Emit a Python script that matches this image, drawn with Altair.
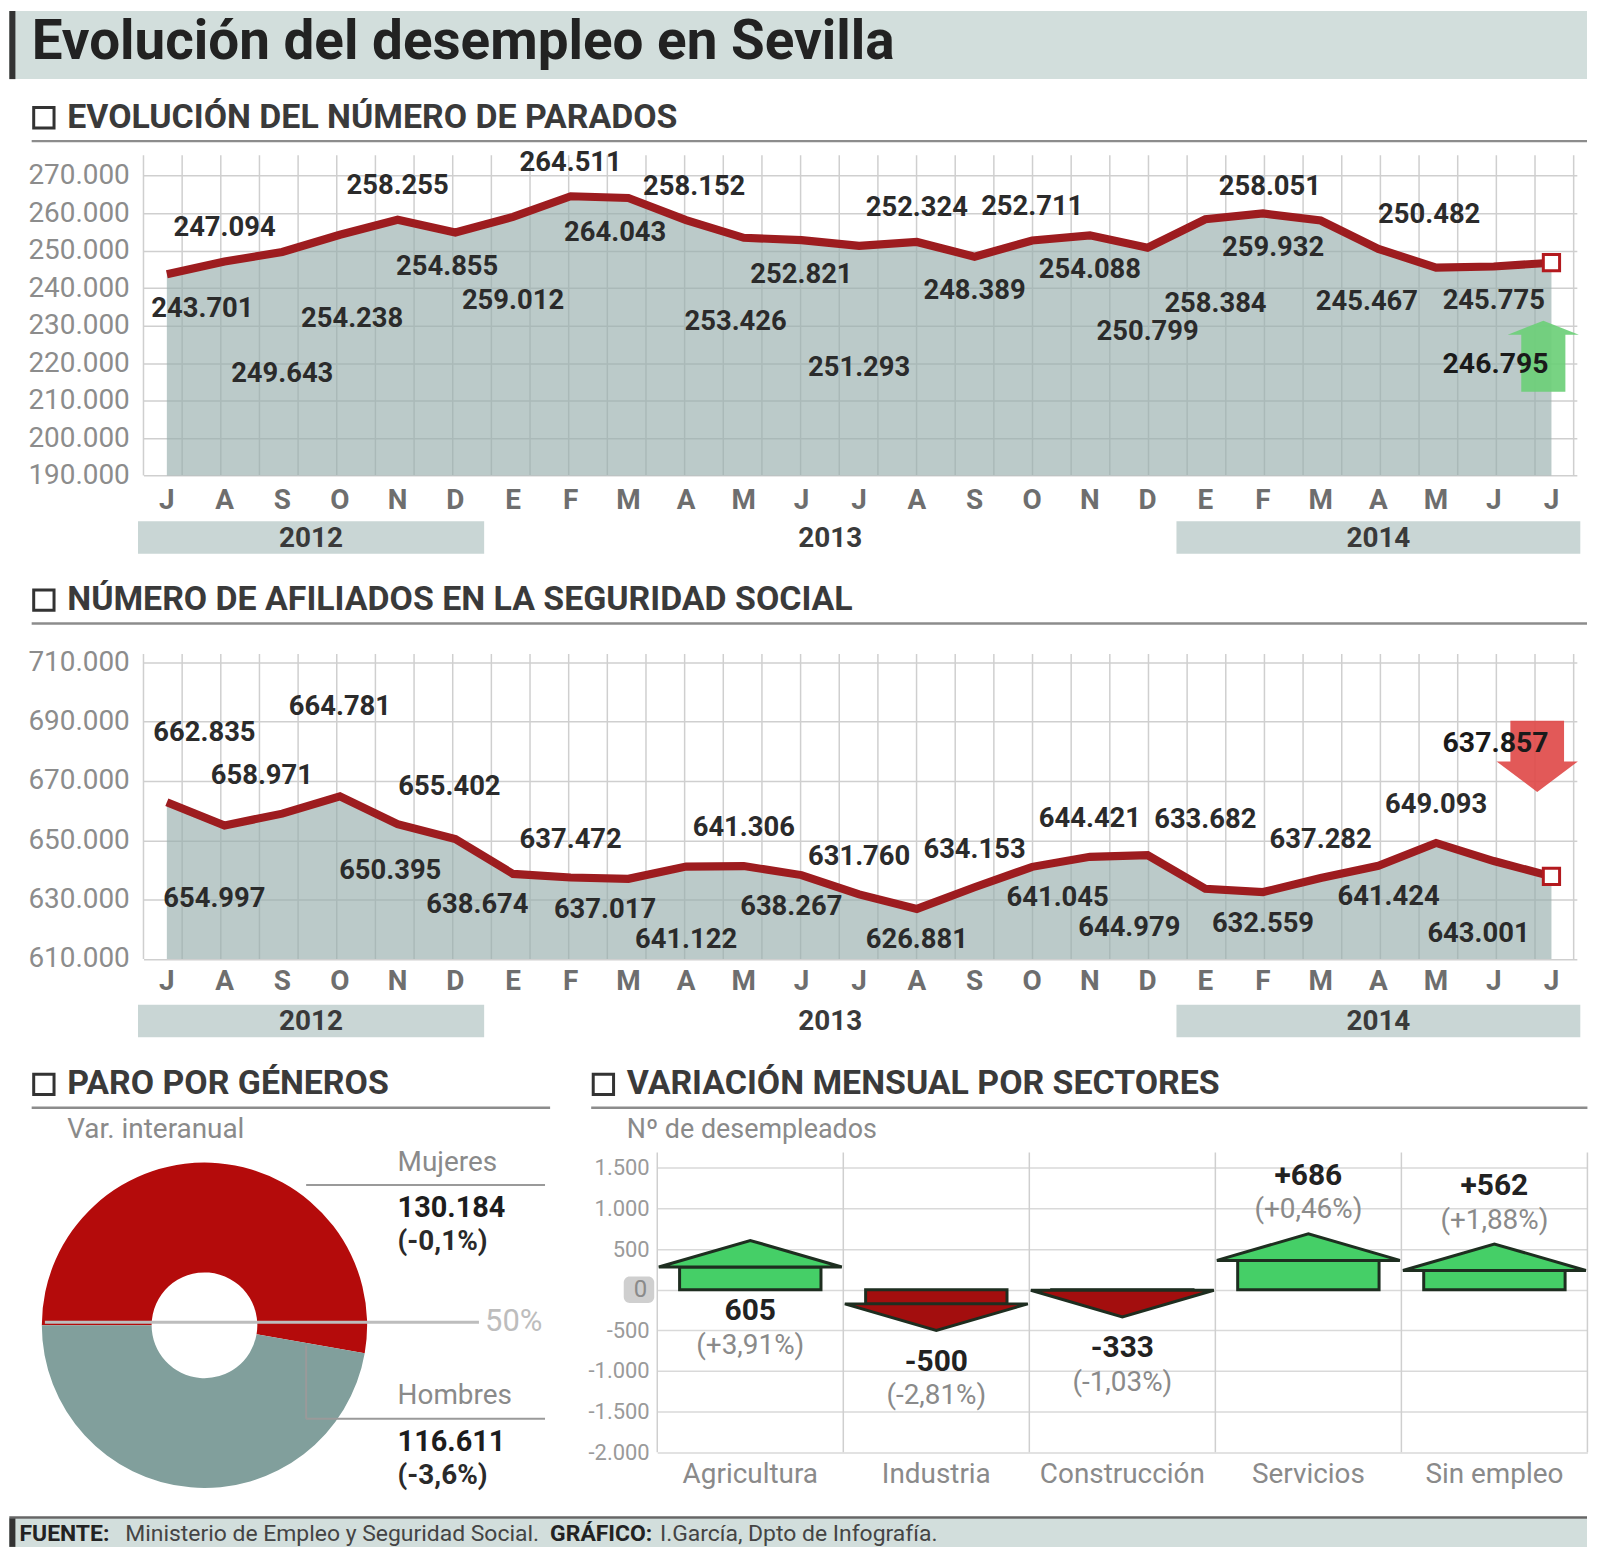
import math
import altair as alt
import pandas as pd

# ---------------- datos ----------------
meses = ["J", "A", "S", "O", "N", "D", "E", "F", "M", "A", "M", "J", "J",
         "A", "S", "O", "N", "D", "E", "F", "M", "A", "M", "J", "J"]
anios = ["2012", "2013", "2014"]
meses_por_anio = [6, 12, 7]

parados = [243701, 247094, 249643, 254238, 258255, 254855, 259012, 264511, 264043,
           258152, 253426, 252821, 251293, 252324, 248389, 252711, 254088, 250799,
           258384, 259932, 258051, 250482, 245467, 245775, 246795]
pos_parados = ["abajo", "arriba", "abajo3", "abajo2", "arriba", "abajo", "abajo2", "arriba",
               "abajo", "arriba", "abajo2", "abajo", "abajo3", "arriba", "abajo", "arriba",
               "abajo", "abajo2", "abajo2", "abajo", "arriba", "arriba", "abajo", "abajo", "final"]
ticks_parados = list(range(190000, 270001, 10000))

afiliados = [662835, 654997, 658971, 664781, 655402, 650395, 638674, 637472, 637017,
             641122, 641306, 638267, 631760, 626881, 634153, 641045, 644421, 644979,
             633682, 632559, 637282, 641424, 649093, 643001, 637857]
pos_afiliados = ["arriba2", "abajo2", "arriba", "arriba3", "arriba", "abajo", "abajo", "arriba",
                 "abajo", "abajo2", "arriba", "abajo", "arriba", "abajo", "arriba", "abajo",
                 "arriba", "abajo2", "arriba2", "abajo", "arriba", "abajo", "arriba", "abajo2", "final"]
ticks_afiliados = list(range(610000, 710001, 20000))

generos = ["Mujeres", "Hombres"]
parados_genero = [130184, 116611]
var_genero = ["(-0,1%)", "(-3,6%)"]

sectores = ["Agricultura", "Industria", "Construcción", "Servicios", "Sin empleo"]
variacion = [605, -500, -333, 686, 562]
var_sector_txt = ["605", "-500", "-333", "+686", "+562"]
var_sector_pct = ["(+3,91%)", "(-2,81%)", "(-1,03%)", "(+0,46%)", "(+1,88%)"]
pos_sector = ["cero", "abajo", "abajo", "arriba", "arriba"]
ticks_sectores = list(range(-2000, 1501, 500))

# ---------------- estilo / maquetación ----------------
K = 1 / 0.98                  # factor de maquetación


def P(v):
    return round(v * K, 2)


FONT = "Roboto"
W = P(1410)
PX_MES = 56.75
BAND = "#d2dedc"
GRID = "#cfcfcf"
LABEL_EXPR = "replace(replace(format(datum.value, ','), ',', '.'), '\u2212', '-')"
LABEL_EXPR_SIN_CERO = "datum.value == 0 ? '' : " + LABEL_EXPR
GRID_X = [round(-0.405 + k * 0.67, 3) for k in range(38)]
FLECHA_ARRIBA = "M0,-1 L1,-0.6 L0.62,-0.6 L0.62,1 L-0.62,1 L-0.62,-0.6 L-1,-0.6 Z"
FLECHA_ABAJO = "M-0.66,-0.875 L0.66,-0.875 L0.66,0.125 L1,0.125 L0,0.875 L-1,0.125 L-0.66,0.125 Z"
PUNTA_ARRIBA = "M-1,0.145 L0,-0.145 L1,0.145 Z"
PUNTA_ABAJO = "M-1,-0.145 L0,0.145 L1,-0.145 Z"
VERDE, ROJO, BORDE = "#45cf67", "#a30e0e", "#1e2e20"
# desplazamientos horizontales (px) de algunas etiquetas
NUDGE1 = {0: 35, 3: 12, 5: -8, 8: -13, 9: 8, 10: -8, 18: 10, 19: 10, 20: -50, 21: 50,
          22: -68, 24: -55}
NUDGE2 = {0: 37, 1: -10, 2: -20, 4: 51, 5: -64, 6: -35, 8: -23, 11: -10, 15: 25, 17: -18,
          21: 10, 23: -15, 24: -55}


def fmt(v):
    return f"{v:,}".replace(",", ".")


def uno(**kw):
    return alt.Chart(pd.DataFrame({k: [v] for k, v in kw.items()}))


def texto(t, x, y, size=24, weight="normal", color="#333333", align="left"):
    return uno(t=t).mark_text(font=FONT, fontSize=size, fontWeight=weight, color=color,
                              align=align, baseline="middle").encode(
        x=alt.value(P(x)), y=alt.value(P(y)), text="t:N")


def regla(x0, x1, y0, y1, color="#8c8c8c", w=2.5):
    return uno(a=0).mark_rule(color=color, strokeWidth=w).encode(
        x=alt.value(P(x0)), x2=alt.value(P(x1)), y=alt.value(P(y0)), y2=alt.value(P(y1)))


def caja(x0, x1, y0, y1, color):
    return uno(a=0).mark_rect(color=color).encode(
        x=alt.value(P(x0)), x2=alt.value(P(x1)), y=alt.value(P(y0)), y2=alt.value(P(y1)))


def cabecera(t, x0, xl0, xl1, yc):
    cuadro = uno(a=0).mark_point(shape="square", filled=False, stroke="#333333", strokeWidth=3,
                                 size=P(20) ** 2, opacity=1).encode(
        x=alt.value(P(x0)), y=alt.value(P(yc)))
    return [cuadro,
            texto(t, x0 + 23, yc, size=34, weight="bold", color="#3a3a3a"),
            regla(xl0, xl1, yc + 23, yc + 23)]


def panel_linea(valores, posiciones, nudge, desp, dominio, rango, ticks, alto, grid_top,
                cab, cab_y, mes_y, banda_y, flecha, flecha_color, flecha_lado, flecha_dx,
                flecha_dy, final_dy, extra=None):
    df = pd.DataFrame({"i": list(range(len(valores))), "mes": meses, "v": valores,
                       "pos": posiciones, "txt": [fmt(v) for v in valores]})
    df["xl"] = [i + nudge.get(i, 0) / PX_MES for i in df["i"]]
    b = alt.Chart(df)
    xs = alt.Scale(domain=[-0.405, 24.44], nice=False, zero=False)
    ys = alt.Scale(domain=dominio, range=[P(rango[0]), P(rango[1])], nice=False, zero=False)
    ya = alt.Axis(values=ticks, labelExpr=LABEL_EXPR, ticks=False, domain=False,
                  labelPadding=P(14), labelFontSize=28, labelColor="#8c8c8c", labelFont=FONT,
                  grid=True, gridColor=GRID, gridWidth=1.5, title=None)
    X = alt.X("i:Q", scale=xs, axis=None, title=None)
    XL = alt.X("xl:Q", scale=xs, axis=None, title=None)
    Y = alt.Y("v:Q", scale=ys, axis=ya, title=None)

    capas = list(extra or [])
    capas += cabecera(cab, -98, -110, 1420, cab_y)
    capas.append(alt.Chart(pd.DataFrame({"g": GRID_X})).mark_rule(color=GRID, strokeWidth=1.5).encode(
        x=alt.X("g:Q", scale=xs, axis=None, title=None), y=alt.value(P(grid_top)),
        y2=alt.value(P(alto))))
    capas.append(b.mark_area(color="#97adac", opacity=0.65).encode(
        x=X, y=Y, y2=alt.datum(dominio[0])))
    capas.append(b.mark_line(color="#9d1c1f", strokeWidth=P(8)).encode(x=X, y=Y))
    ultimo = b.transform_filter(alt.datum.i == len(valores) - 1)
    capas.append(ultimo.mark_point(shape=flecha, filled=True, color=flecha_color,
                                   size=P(flecha_lado) ** 2, opacity=0.92).encode(
        x=X, y=Y, xOffset=alt.value(P(flecha_dx)), yOffset=alt.value(P(flecha_dy))))
    capas.append(ultimo.mark_point(shape="square", filled=True, fill="white", stroke="#b3191e",
                                   strokeWidth=3, size=P(16) ** 2, opacity=1).encode(x=X, y=Y))
    for p, dy in desp.items():
        capas.append(b.transform_filter(alt.datum.pos == p).mark_text(
            font=FONT, fontSize=27.5, fontWeight="bold", color="#2b2b2b", dy=P(dy),
            baseline="middle").encode(x=XL, y=Y, text="txt:N"))
    capas.append(b.transform_filter(alt.datum.pos == "final").mark_text(
        font=FONT, fontSize=28.5, fontWeight="bold", color="#1a1a1a", dy=P(final_dy),
        baseline="middle").encode(x=XL, y=Y, text="txt:N"))
    capas.append(b.mark_text(font=FONT, fontSize=28, fontWeight="bold", color="#6e6e6e",
                             baseline="middle").encode(x=X, y=alt.value(P(mes_y)), text="mes:N"))
    # bandas de año
    ini, acc = [], 0
    for n in meses_por_anio:
        ini.append(acc - 0.5)
        acc += n
    dfa = pd.DataFrame({"anio": anios, "ini": ini,
                        "fin": [a + n for a, n in zip(ini, meses_por_anio)]})
    dfa["centro"] = (dfa["ini"] + dfa["fin"]) / 2
    ba = alt.Chart(dfa)
    capas.append(ba.transform_filter(alt.datum.anio != "2013").mark_rect(color="#c9d6d5").encode(
        x=alt.X("ini:Q", scale=xs, axis=None, title=None), x2="fin:Q",
        y=alt.value(P(banda_y)), y2=alt.value(P(banda_y + 32))))
    capas.append(ba.mark_text(font=FONT, fontSize=28, fontWeight="bold", color="#3a3a3a",
                              baseline="middle").encode(
        x=alt.X("centro:Q", scale=xs, axis=None, title=None), y=alt.value(P(banda_y + 17)),
        text="anio:N"))
    return alt.layer(*capas).properties(width=W, height=P(alto))


titulo = [caja(-132, 1420, -142, -75, BAND), caja(-132, -126, -142, -75, "#333333"),
          texto("Evolución del desempleo en Sevilla", -110, -111, size=55, weight="bold",
                color="#222222")]

c1 = panel_linea(parados, pos_parados, NUDGE1,
                 {"arriba": -33, "abajo": 34, "abajo2": 83, "abajo3": 120},
                 [190000, 270000], [315, 20], ticks_parados, 315, 0,
                 "EVOLUCIÓN DEL NÚMERO DE PARADOS", -37, 340, 360,
                 FLECHA_ARRIBA, "#6ccf78", 70, -8, 92, 100, extra=titulo)

c2 = panel_linea(afiliados, pos_afiliados, NUDGE2,
                 {"arriba": -37, "arriba2": -68, "arriba3": -88, "abajo": 31, "abajo2": 72},
                 [610000, 710000], [475, 183], ticks_afiliados, 475, 175,
                 "NÚMERO DE AFILIADOS EN LA SEGURIDAD SOCIAL", 122, 498, 520,
                 FLECHA_ABAJO, "#df4b4a", 80, -14, -118, -131)

# ---------------- donut (+ pie de página) ----------------
dfg = pd.DataFrame({"genero": generos, "parados": parados_genero, "k": [0, 1],
                    "valor": [fmt(v) for v in parados_genero], "var": var_genero})
bg = alt.Chart(dfg)
donut_capas = cabecera("PARO POR GÉNEROS", -98, -110, 400, 123)
donut_capas.append(texto("Var. interanual", -75, 168, size=28, color="#8a8a8a"))
donut_capas.append(bg.mark_arc(innerRadius=P(52), outerRadius=P(160)).encode(
    theta=alt.Theta("parados:Q", stack=True,
                    scale=alt.Scale(range=[1.5 * math.pi, 3.5 * math.pi])),
    color=alt.Color("genero:N", scale=alt.Scale(domain=generos, range=["#b40b0b", "#819f9c"]),
                    legend=None),
    order=alt.Order("k:Q"), x=alt.value(P(60)), y=alt.value(P(360))))
donut_capas.append(regla(-97, 330, 357, 357, color="#bdbdbd", w=3))
donut_capas.append(texto("50%", 336, 357, size=31, color="#bdbdbd"))
donut_capas.append(regla(160, 395, 222, 222, color="#9a9a9a", w=2))
donut_capas.append(regla(160, 395, 452, 452, color="#9a9a9a", w=2))
donut_capas.append(regla(160, 160, 380, 452, color="#9a9a9a", w=2))
for g, yy in zip(generos, [200, 430]):
    sel = bg.transform_filter(alt.datum.genero == g)
    donut_capas.append(sel.mark_text(font=FONT, fontSize=28, color="#8a8a8a", align="left",
                                     baseline="middle").encode(
        x=alt.value(P(250)), y=alt.value(P(yy)), text="genero:N"))
    donut_capas.append(sel.mark_text(font=FONT, fontSize=29, fontWeight="bold", color="#1d1d1d",
                                     align="left", baseline="middle").encode(
        x=alt.value(P(250)), y=alt.value(P(yy + 45)), text="valor:N"))
    donut_capas.append(sel.mark_text(font=FONT, fontSize=28, fontWeight="bold", color="#2a2a2a",
                                     align="left", baseline="middle").encode(
        x=alt.value(P(250)), y=alt.value(P(yy + 78)), text="var:N"))
# pie de página (dibujado desde este panel)
donut_capas += [caja(-132, 1420, 550, 578, BAND), regla(-132, 1420, 549, 549, color="#666666", w=2.5),
                caja(-132, -126, 550, 578, "#333333"),
                texto("FUENTE:", -122, 565, size=23, weight="bold", color="#222222"),
                texto("Ministerio de Empleo y Seguridad Social.", -18, 565, size=23, color="#444444"),
                texto("GRÁFICO:", 400, 565, size=23, weight="bold", color="#222222"),
                texto("I.García, Dpto de Infografía.", 508, 565, size=23, color="#444444")]
donut = alt.layer(*donut_capas).properties(width=P(420), height=P(485))

# ---------------- sectores ----------------
WB = P(915)
PX_U = (P(485) - P(205)) / 3500   # px por desempleado en el eje
Y_CERO = P(485) - 2000 * PX_U       # posición del cero
CABEZA = P(26)                     # alto de la punta de flecha (px)
dfs = pd.DataFrame({"i": list(range(len(sectores))), "sector": sectores, "v": variacion,
                    "txt": var_sector_txt, "pct": var_sector_pct, "pos": pos_sector})
dfs["ancla"] = [0 if p == "cero" else v for p, v in zip(pos_sector, variacion)]
dfs["cuerpo"] = [v - math.copysign(CABEZA / PX_U, v) for v in variacion]
dfs["x0"] = dfs["i"] - 0.38
dfs["x1"] = dfs["i"] + 0.38

xsb = alt.Scale(domain=[-0.5, 4.5], nice=False, zero=False)
ysb = alt.Scale(domain=[-2000, 1500], range=[P(485), P(205)], nice=False, zero=False)
yab = alt.Axis(values=ticks_sectores, labelExpr=LABEL_EXPR_SIN_CERO, ticks=False, domain=False,
               labelPadding=P(8), labelFontSize=22, labelColor="#9a9a9a", labelFont=FONT,
               grid=True, gridColor="#d9d9d9", gridWidth=1.5, title=None)
bs = alt.Chart(dfs)
Xs = alt.X("i:Q", scale=xsb, axis=None, title=None)
Ys = alt.Y("ancla:Q", scale=ysb, axis=yab, title=None)
Yv = alt.Y("v:Q", scale=ysb, axis=yab, title=None)

bar_capas = cabecera("VARIACIÓN MENSUAL POR SECTORES", -53, -65, 915, 123)
bar_capas.append(texto("Nº de desempleados", -30, 168, size=27, color="#8a8a8a"))
bar_capas.append(alt.Chart(pd.DataFrame({"g": [-0.5, 0.5, 1.5, 2.5, 3.5, 4.5]})).mark_rule(
    color=GRID, strokeWidth=1.5).encode(x=alt.X("g:Q", scale=xsb, axis=None, title=None),
                                        y=alt.value(P(190)), y2=alt.value(P(485))))
# etiqueta del cero sobre fondo gris
cero = alt.Chart(pd.DataFrame({"c": [0], "t": ["0"]}))
bar_capas.append(cero.mark_rect(color="#cfcfcf", cornerRadius=6).encode(
    x=alt.value(P(-33)), x2=alt.value(P(-3)), y=alt.value(Y_CERO - P(13)),
    y2=alt.value(Y_CERO + P(13))))
bar_capas.append(cero.mark_text(font=FONT, fontSize=24, color="#8a8a8a", align="right",
                                baseline="middle").encode(
    x=alt.value(P(-10)), y=alt.Y("c:Q", scale=ysb, axis=yab, title=None), text="t:N"))
for cond, col, punta, off in [(alt.datum.v > 0, VERDE, PUNTA_ARRIBA, CABEZA / 2),
                              (alt.datum.v < 0, ROJO, PUNTA_ABAJO, -CABEZA / 2)]:
    sel = bs.transform_filter(cond)
    bar_capas.append(sel.mark_rect(color=col, stroke=BORDE, strokeWidth=3).encode(
        x=alt.X("x0:Q", scale=xsb, axis=None, title=None), x2="x1:Q",
        y=alt.Y("cuerpo:Q", scale=ysb, axis=yab, title=None), y2=alt.datum(0)))
    bar_capas.append(sel.mark_point(shape=punta, filled=True, fill=col, stroke=BORDE,
                                    strokeWidth=3, size=P(180) ** 2, opacity=1).encode(
        x=Xs, y=Yv, yOffset=alt.value(off)))
for p, (d1, d2) in {"arriba": (-57, -23), "abajo": (31, 65), "cero": (21, 55)}.items():
    sel = bs.transform_filter(alt.datum.pos == p)
    bar_capas.append(sel.mark_text(font=FONT, fontSize=30, fontWeight="bold", color="#222222",
                                   dy=P(d1), baseline="middle").encode(x=Xs, y=Ys, text="txt:N"))
    bar_capas.append(sel.mark_text(font=FONT, fontSize=28, color="#8a8a8a",
                                   dy=P(d2), baseline="middle").encode(x=Xs, y=Ys, text="pct:N"))
bar_capas.append(bs.mark_text(font=FONT, fontSize=28, color="#8a8a8a", baseline="middle").encode(
    x=Xs, y=alt.value(P(507)), text="sector:N"))
barras = alt.layer(*bar_capas).properties(width=WB, height=P(485))

chart = alt.vconcat(
    c1, c2, alt.hconcat(donut, barras, spacing=P(85), bounds="flush"),
    spacing=0, bounds="flush"
).properties(padding=0, background="white").configure_view(strokeWidth=0).configure_axis(
    labelFont=FONT)

chart.save("out.html", embed_options={"renderer": "svg", "actions": False})
